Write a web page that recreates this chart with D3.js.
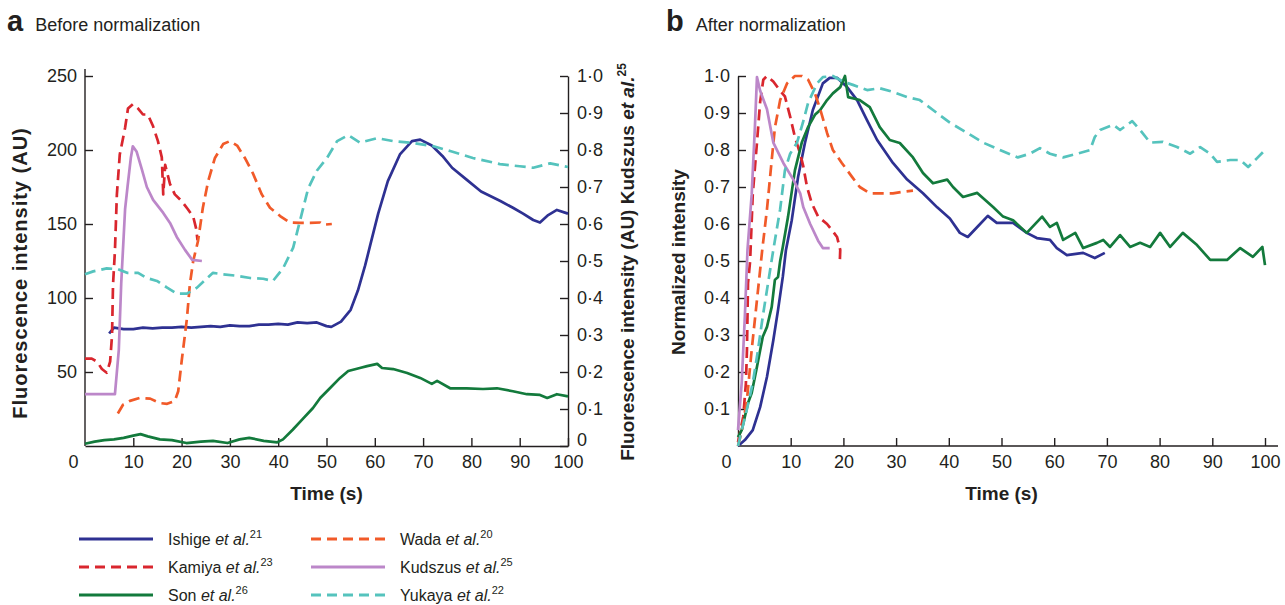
<!DOCTYPE html>
<html>
<head>
<meta charset="utf-8">
<script src="https://d3js.org/d3.v7.min.js"></script>
<style>
body {margin:0; background:#fff;}
svg text {font-family:'Liberation Sans', Arial, sans-serif; fill:#231f20;}
</style>
</head>
<body>
<svg width="1285" height="605"></svg>
<script>
// legend / series info
var names = ['Ishige','Kamiya','Son','Wada','Kudszus','Yukaya']
var refs = ['21','23','26','20','25','22']
var colors = ['#2e3192','#d9262e','#137a3c','#f15a29','#bc87c9','#55c3bd']
var dashed = [false,true,false,true,false,true]

var xTicks = [0,10,20,30,40,50,60,70,80,90,100]
var auTicks = [50,100,150,200,250]
var unitTicks = [0,0.1,0.2,0.3,0.4,0.5,0.6,0.7,0.8,0.9,1.0]
var normTicks = [0.1,0.2,0.3,0.4,0.5,0.6,0.7,0.8,0.9,1.0]

// panel a: [time s, fluorescence AU]; Kudszus on the right 0-1 axis
var ishigeA = [[5,76],[6,80],[8,79],[10,79],[12,80],[14,79.5],[16,80],[18,80],[20,80.5],[22,80],[24,80.5],[26,81],[28,80.5],[30,81.5],[32,81],[34,81],[36,82],[38,82],[40,82.5],[42,82],[44,83.5],[46,83],[48,83.5],[50,81],[51,80.5],[53,84],[55,92],[56.5,105],[58,122],[59,135],[60.7,157],[62.7,179],[65.2,197],[67.7,206],[69.4,207],[71.8,203],[74,196],[76,188],[79,180],[82,172],[86,165.5],[88.6,161],[90.7,157],[92.8,152.7],[94.2,151],[95.9,156],[97.7,159.5],[100,157]]
var kamiyaA = [[0,59],[1.4,59],[2.5,57],[3.5,52],[4.5,49.5],[5.2,57],[5.6,75],[5.8,109],[6.2,132],[6.6,170],[7.2,197],[8.3,215],[8.9,228],[9.9,231],[11,228],[12,224],[13,224],[14.1,216],[15.1,206],[15.9,195],[16.2,170],[16.6,190],[17.6,177],[18.6,170],[20,165.5],[21.3,160],[22.4,155],[23,147],[23.3,139]]
var sonA = [[0,1.5],[2,3],[4,4],[6,4.5],[8,5.5],[10,7],[11.5,8],[13,6.5],[15.5,4.5],[18,4],[21,2],[24,3],[26.5,3.5],[29.5,2],[32,4.5],[34,5.5],[37,3.5],[39.8,2.5],[41,4.5],[43,11],[45,18],[47.2,25.7],[48.7,32.4],[50.7,39],[52.8,46],[54.5,50.7],[56.9,52.7],[58.4,54],[60.5,55.5],[61.5,52.7],[63.8,52],[66.7,49.3],[69.4,46],[71.8,42],[72.9,44],[75.6,39],[79,39],[82.4,38.5],[85.3,39],[88.6,37],[91.5,35],[94.2,34.5],[95.7,32.5],[97.7,35],[100,33.5]]
var wadaA = [[6.8,22],[7.9,28],[9.3,30.5],[11.4,32.5],[13.5,32],[15.5,29],[17,28.5],[18.6,30.5],[19.3,37],[20,57],[21.1,86],[21.7,109],[22.4,125],[23.4,138.5],[24.4,161],[25.5,179],[26.9,194.6],[28.6,204],[30,206],[31.5,203],[33.1,194.6],[34.8,184],[36.6,170],[38.3,161],[40.4,155.4],[42.4,151],[44.5,150.7],[46.6,150.7],[48.7,151],[49.3,149.5],[51.1,150]]
var kudszusA = [[0,0.14],[6.2,0.14],[7,0.26],[7.5,0.44],[8.3,0.64],[8.8,0.7],[9.5,0.78],[9.9,0.81],[10.7,0.795],[11.8,0.746],[12.8,0.7],[14.1,0.665],[16.2,0.63],[17.6,0.603],[19,0.565],[20.7,0.53],[22.2,0.503],[24.2,0.5]]
var yukayaA = [[0,116],[1.7,118],[4.5,120],[6.8,119.5],[8.7,117],[11,117],[12.8,113.5],[14.9,111.5],[17,107],[19,103],[21.1,103],[23.2,107],[25.3,113.5],[26.5,117],[28.6,116],[31.5,115],[34.2,113.5],[36.9,113],[38.9,111.5],[41,120],[43.1,134],[44.5,152],[46.2,174],[48,186],[50.1,194.6],[52.2,206],[54.5,210],[56.9,205],[60.5,208],[63.8,206],[67.9,204.7],[72,202.7],[75.6,199.3],[80.3,194.6],[85.9,190.5],[90,189],[92.8,188],[96.3,191],[100,188.5]]

// panel b: [time s, normalized intensity]
var ishigeB = [[0,0],[1.3,0.016],[2.8,0.043],[4.2,0.105],[5.5,0.187],[6.7,0.286],[7.6,0.368],[8.5,0.457],[9.1,0.53],[10.2,0.61],[11.4,0.727],[12.7,0.819],[14.2,0.908],[16.1,0.98],[17.4,0.995],[18.8,0.995],[20.7,0.97],[22.6,0.935],[24.5,0.88],[26.4,0.827],[29.4,0.765],[32.1,0.72],[35.1,0.683],[37.8,0.645],[40.2,0.615],[42.1,0.576],[43.6,0.565],[45.4,0.592],[47.4,0.622],[49.1,0.603],[52.2,0.603],[54.8,0.576],[56.7,0.562],[59.2,0.557],[60.5,0.535],[62.4,0.516],[65.5,0.522],[67.7,0.508],[69.6,0.522]]
var kamiyaB = [[0,0.01],[1,0.08],[1.5,0.17],[1.7,0.26],[1.9,0.44],[2.3,0.5],[2.8,0.68],[3.6,0.82],[4.2,0.93],[4.8,0.99],[5.5,1.0],[6.7,0.985],[8,0.96],[8.9,0.945],[9.9,0.89],[10.8,0.835],[11.8,0.79],[12.4,0.755],[13.1,0.7],[14,0.656],[15.2,0.62],[16.9,0.6],[17.8,0.584],[18.8,0.565],[19.4,0.53],[19.3,0.49]]
var sonB = [[0,0.024],[0.7,0.043],[1.9,0.116],[2.6,0.143],[3.6,0.214],[4.7,0.295],[5.5,0.322],[6.4,0.376],[7,0.449],[7.6,0.457],[8,0.5],[8.5,0.538],[9.5,0.62],[10.8,0.745],[12.1,0.82],[13.3,0.862],[14.6,0.895],[15.6,0.908],[16.9,0.935],[18,0.953],[19.4,0.97],[20.3,1.0],[20.9,0.943],[23.1,0.935],[25,0.916],[26.9,0.862],[28.8,0.827],[30.7,0.819],[33.2,0.78],[35.1,0.738],[37,0.71],[39.7,0.72],[40.8,0.7],[42.7,0.673],[45.4,0.684],[48.4,0.646],[50.3,0.62],[52.2,0.61],[54.8,0.576],[57.7,0.62],[59.2,0.592],[60.5,0.603],[61.7,0.557],[64,0.576],[65.5,0.535],[68.1,0.549],[69.3,0.557],[70.6,0.538],[72.5,0.57],[74.4,0.538],[76.3,0.549],[78.2,0.538],[80.1,0.576],[82,0.538],[84.4,0.576],[87.1,0.543],[89.6,0.503],[92.8,0.503],[95.3,0.535],[97.7,0.511],[99.5,0.538],[100,0.489]]
var wadaB = [[0,0],[0.7,0.04],[1.7,0.125],[2.6,0.26],[3.6,0.395],[4.6,0.53],[5.5,0.64],[6.4,0.773],[7,0.86],[8,0.935],[9.3,0.98],[10.8,1.0],[12.1,1.0],[13.3,0.99],[14.6,0.953],[15.6,0.91],[16.9,0.846],[18,0.8],[19.7,0.765],[21.6,0.728],[23.1,0.7],[25,0.683],[26.9,0.683],[29.4,0.683],[31.3,0.687],[33.2,0.69]]
var kudszusB = [[0,0.043],[0.7,0.17],[1.3,0.35],[1.8,0.53],[2.6,0.68],[3.2,0.86],[3.6,0.997],[4.2,0.96],[5.5,0.91],[6.7,0.82],[8.6,0.765],[10.5,0.72],[11.8,0.683],[12.4,0.645],[13.7,0.6],[15.2,0.555],[16.1,0.535],[17.4,0.535]]
var yukayaB = [[0,0],[0.4,0.024],[1.7,0.1],[2.8,0.17],[3.8,0.26],[4.7,0.35],[5.7,0.44],[6.7,0.53],[8,0.64],[8.9,0.745],[9.9,0.79],[11.2,0.82],[12.3,0.873],[13.3,0.927],[15,0.98],[16.1,0.997],[18,1.0],[19.9,0.985],[21.8,0.976],[24.5,0.962],[26.9,0.967],[29.4,0.957],[32.1,0.943],[34.5,0.935],[37,0.908],[40.2,0.874],[43.5,0.846],[46.5,0.82],[49.7,0.8],[53.1,0.78],[55.4,0.79],[57.3,0.805],[59.2,0.79],[61.7,0.78],[64.4,0.79],[66.8,0.8],[67.7,0.835],[68.7,0.854],[71.2,0.868],[72.5,0.854],[74.8,0.878],[76.3,0.854],[78.2,0.82],[80.6,0.822],[83.3,0.808],[85.8,0.79],[87.7,0.808],[89.6,0.79],[90.9,0.768],[93.4,0.773],[95.3,0.773],[96.8,0.754],[98.5,0.778],[100,0.8]]

var seriesA = [ishigeA,kamiyaA,sonA,wadaA,kudszusA,yukayaA]
var seriesB = [ishigeB,kamiyaB,sonB,wadaB,kudszusB,yukayaB]

var svg = d3.select('svg')
var ink = '#231f20'
var tickFont = 18

// scales
var xA = d3.scaleLinear().domain([0,100]).range([85,568])
var yA = d3.scaleLinear().domain([0,250]).range([446,76])
var yR = d3.scaleLinear().domain([0,1]).range([446,76])
var xB = d3.scaleLinear().domain([0,100]).range([738,1265])
var yB = d3.scaleLinear().domain([0,1]).range([446,76])

function dot(d) {return d===0 ? '0' : d.toFixed(1).replace('.','\u00b7')}

function styleAxis(g) {
  g.select('.domain').attr('stroke',ink).attr('stroke-width',1.4)
  g.selectAll('.tick line').attr('stroke',ink).attr('stroke-width',1.4)
  g.selectAll('.tick text').attr('font-size',tickFont).attr('fill',ink)
    .style('font-family',"'Liberation Sans', Arial, sans-serif")
}

function xAxis(x, right) {
  var g = svg.append('g').attr('transform','translate(0,446)')
    .call(d3.axisBottom(x).tickValues(xTicks).tickSize(-8).tickSizeOuter(0).tickPadding(9))
  styleAxis(g)
  g.selectAll('.tick').filter(function(d){return d===0}).select('line').remove()
  g.selectAll('.tick').filter(function(d){return d===0}).select('text').attr('dx',-12)
  if (right) g.select('.domain').attr('d','M'+x(0)+',0H'+right)
}

// ---------- panel a ----------
xAxis(xA)
var gl = svg.append('g').attr('transform','translate('+xA(0)+',0)')
  .call(d3.axisLeft(yA).tickValues(auTicks).tickFormat(d3.format('d')).tickSize(-8).tickSizeOuter(0).tickPadding(8))
styleAxis(gl)
gl.select('.domain').attr('d','M0,'+yA(0)+'V'+(yA(250)-7))

var gr = svg.append('g').attr('transform','translate('+xA(100)+',0)')
  .call(d3.axisRight(yR).tickValues(unitTicks).tickFormat(dot).tickSize(-8).tickSizeOuter(0).tickPadding(9))
styleAxis(gr)
// lift the corner "0" a little so it clears the "100" below it
gr.selectAll('.tick').filter(function(d){return d===0}).select('text').attr('dy','-0.05em')

// ---------- panel b ----------
xAxis(xB, 1278)
var gb = svg.append('g').attr('transform','translate('+xB(0)+',0)')
  .call(d3.axisLeft(yB).tickValues(normTicks).tickFormat(dot).tickSize(-8).tickSizeOuter(0).tickPadding(8))
styleAxis(gb)

// lines
function drawLines(data, x, yFor) {
  data.forEach(function(s,i){
    var y = yFor(i)
    svg.append('path')
      .datum(s)
      .attr('fill','none')
      .attr('stroke',colors[i])
      .attr('stroke-width',2.7)
      .attr('stroke-linejoin','round')
      .attr('stroke-dasharray',dashed[i] ? '11,6' : null)
      .attr('d',d3.line().x(function(d){return x(d[0])}).y(function(d){return y(d[1])}))
  })
}
drawLines(seriesA, xA, function(i){return names[i]==='Kudszus' ? yR : yA})
drawLines(seriesB, xB, function(){return yB})

// titles
function panelTitle(x, letter, label) {
  var t = svg.append('text').attr('x',x).attr('y',31)
  t.append('tspan').attr('font-weight','bold').attr('font-size',29).text(letter)
  t.append('tspan').attr('dx',12).attr('font-size',18).text(label)
}
panelTitle(7,'a','Before normalization')
panelTitle(666,'b','After normalization')

// axis labels
function bold(x, y, txt, rot) {
  return svg.append('text').attr('font-weight','bold').attr('font-size',19)
    .attr('text-anchor','middle')
    .attr('transform','translate('+x+','+y+')'+(rot ? ' rotate(-90)' : ''))
    .text(txt)
}
bold(xA(50),500,'Time (s)')
bold(xB(50),500,'Time (s)')
bold(27,273,'Fluorescence intensity (AU)',true).attr('font-size',20).attr('letter-spacing',1)
bold(685,262,'Normalized intensity',true)

var rl = svg.append('text').attr('font-weight','bold').attr('font-size',19)
  .attr('text-anchor','middle').attr('transform','translate(634,262) rotate(-90)')
rl.append('tspan').text('Fluorescence intensity (AU) Kudszus ')
rl.append('tspan').attr('font-style','italic').text('et al.')
rl.append('tspan').attr('font-size',12).attr('dy',-8).text('25')

// legend
var legX = [79,311]
var legY = [539,567,595]
names.forEach(function(n,i){
  var col = Math.floor(i/3), row = i%3
  var lx = legX[col], ly = legY[row]
  svg.append('line').attr('x1',lx).attr('x2',lx+74).attr('y1',ly).attr('y2',ly)
    .attr('stroke',colors[i]).attr('stroke-width',3)
    .attr('stroke-dasharray',dashed[i] ? '10,6' : null)
  var t = svg.append('text').attr('x',lx+89).attr('y',ly+6).attr('font-size',16)
  t.append('tspan').text(n+' ')
  t.append('tspan').attr('font-style','italic').text('et al.')
  t.append('tspan').attr('font-size',11).attr('dy',-7).text(refs[i])
})
</script>
</body>
</html>
